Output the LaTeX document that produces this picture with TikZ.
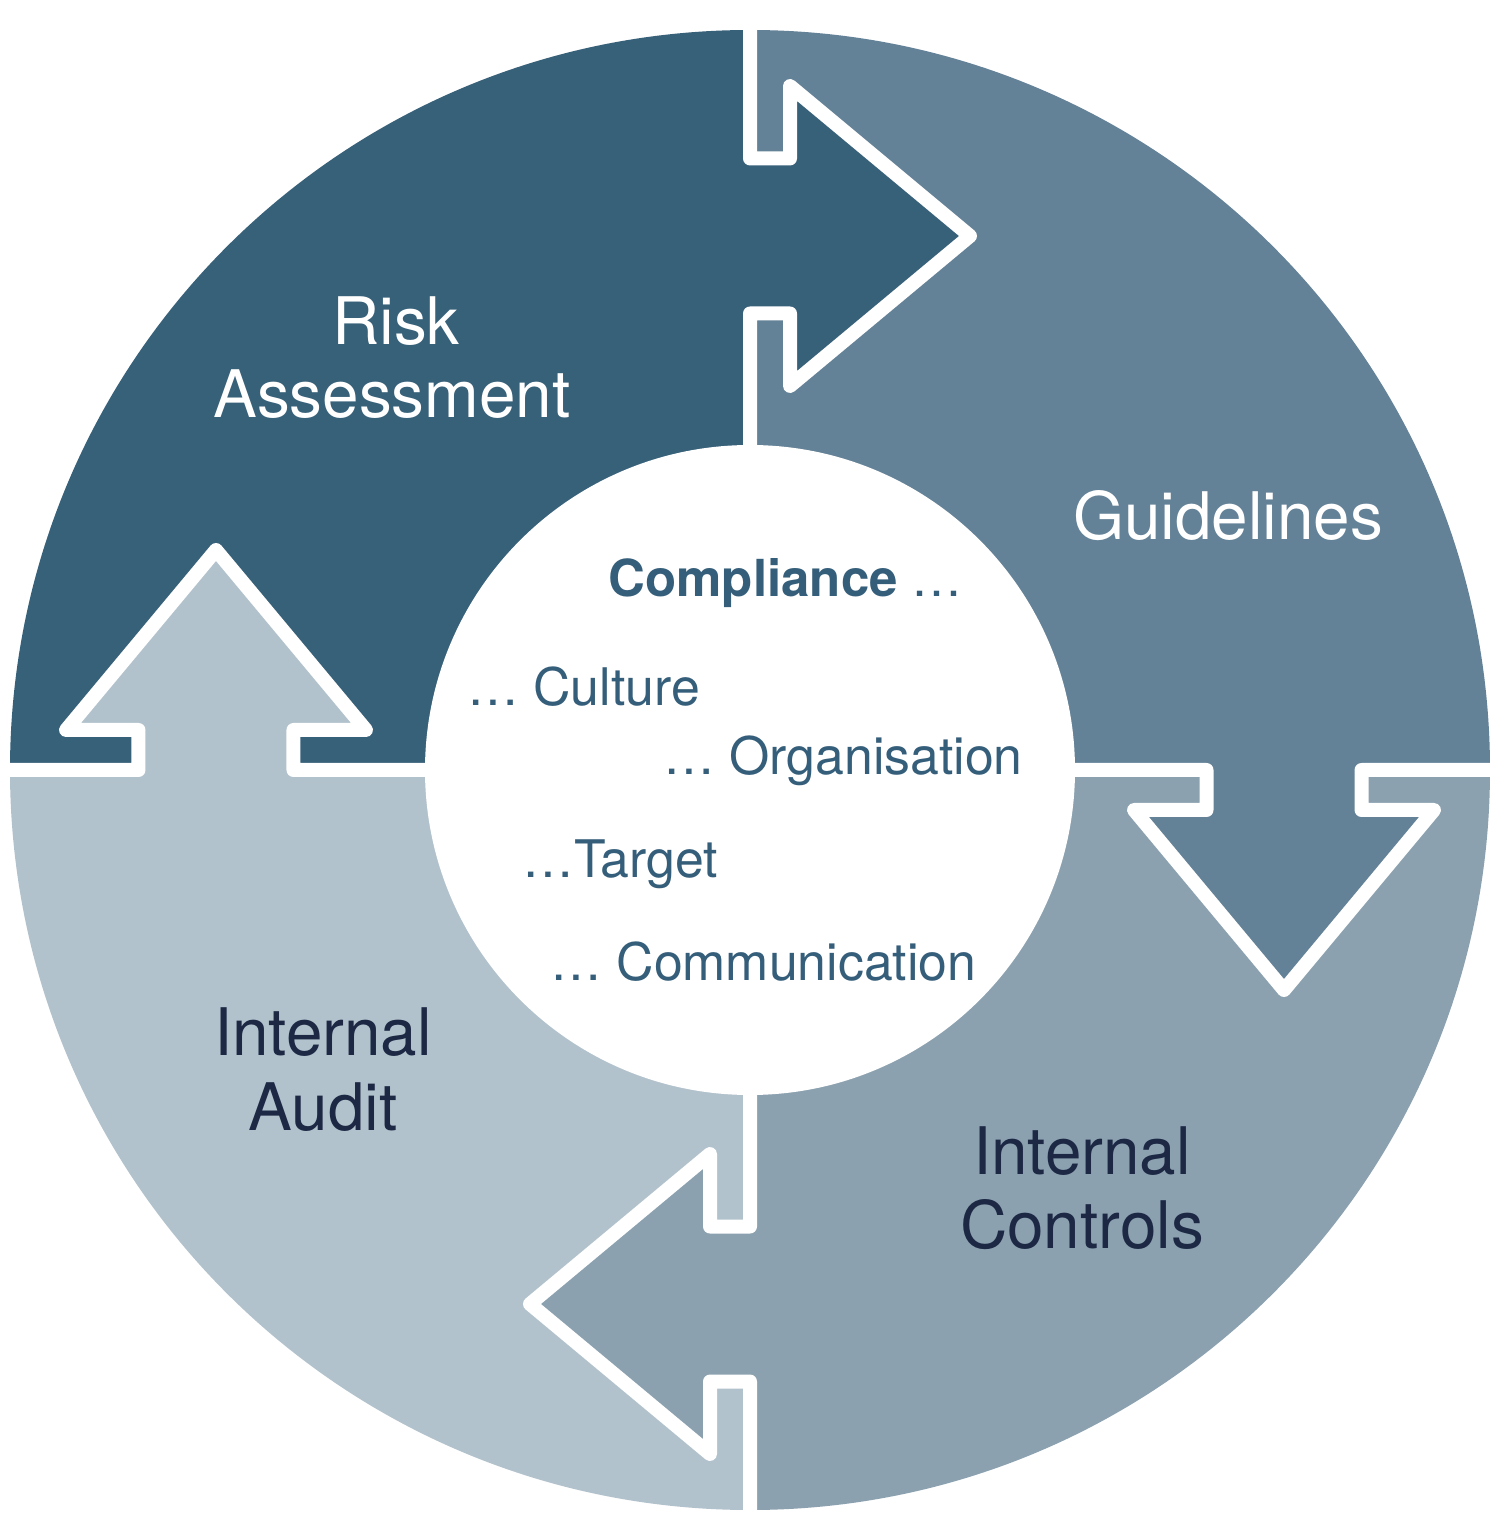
\documentclass[tikz,border=0pt]{standalone}
\usepackage{fontspec}
\setmainfont{TeX Gyre Heros}
\definecolor{qone}{HTML}{376079}
\definecolor{qtwo}{HTML}{638197}
\definecolor{qthree}{HTML}{8BA1AF}
\definecolor{qfour}{HTML}{B2C2CC}
\definecolor{midtext}{HTML}{355E7A}
\definecolor{darktext}{HTML}{1C2844}
\begin{document}
\begin{tikzpicture}[x=0.5pt,y=0.5pt,
  gapline/.style={draw=white,line width=7pt,line join=round},
  biglabel/.style={font=\fontsize{32.8}{38}\selectfont,anchor=base,inner sep=0pt},
  midlabel/.style={font=\fontsize{25.9}{30}\selectfont,text=midtext,anchor=base west,inner sep=0pt}]
\fill[white] (-750,-770) rectangle (750,770);
\useasboundingbox (-750,-770) rectangle (750,770);
% quadrants
\fill[qone] (0,0) -- (-740,0) arc[start angle=180,end angle=90,radius=740] -- cycle;
\fill[qtwo] (0,0) -- (0,740) arc[start angle=90,end angle=0,radius=740] -- cycle;
\fill[qthree] (0,0) -- (740,0) arc[start angle=0,end angle=-90,radius=740] -- cycle;
\fill[qfour] (0,0) -- (0,-740) arc[start angle=-90,end angle=-180,radius=740] -- cycle;
% arrow bodies
\foreach \rot/\col in {0/qone,-90/qtwo,-180/qthree,90/qfour} {
  \fill[\col,rotate=\rot] (-20,456.5) -- (40,456.5) -- (40,384) -- (220,534) -- (40,684) -- (40,611.5) -- (-20,611.5) -- cycle;
}
% white gaps and arrow outlines
\foreach \rot in {0,-90,-180,90} {
  \draw[gapline,rotate=\rot] (0,750) -- (0,611.5) -- (40,611.5) -- (40,684) -- (220,534) -- (40,384) -- (40,456.5) -- (0,456.5) -- (0,300);
}
% inner circle
\fill[white] (0,0) circle[radius=325];
% labels
\node[biglabel,text=white] (risk) at (-354,425) {Risk};
\node[biglabel,text=white] (assess) at (-358,352) {Assessment};
\node[biglabel,text=white] (guide) at (478,230) {Guidelines};
\node[biglabel,text=darktext] (ictrl1) at (332,-404) {Internal};
\node[biglabel,text=darktext] (ictrl2) at (332,-478) {Controls};
\node[biglabel,text=darktext] (iaud1) at (-427,-285) {Internal};
\node[biglabel,text=darktext] (iaud2) at (-427,-360) {Audit};
% centre
\node[midlabel,font=\fontsize{25.5}{30}\selectfont] (comp) at (-142,173) {\textbf{Compliance} …};
\node[midlabel] (cult) at (-283,64) {… Culture};
\node[midlabel] (orga) at (-87,-5) {… Organisation};
\node[midlabel] (targ) at (-228,-108) {…Target};
\node[midlabel] (comm) at (-200,-210) {… Communication};
\end{tikzpicture}
\end{document}
